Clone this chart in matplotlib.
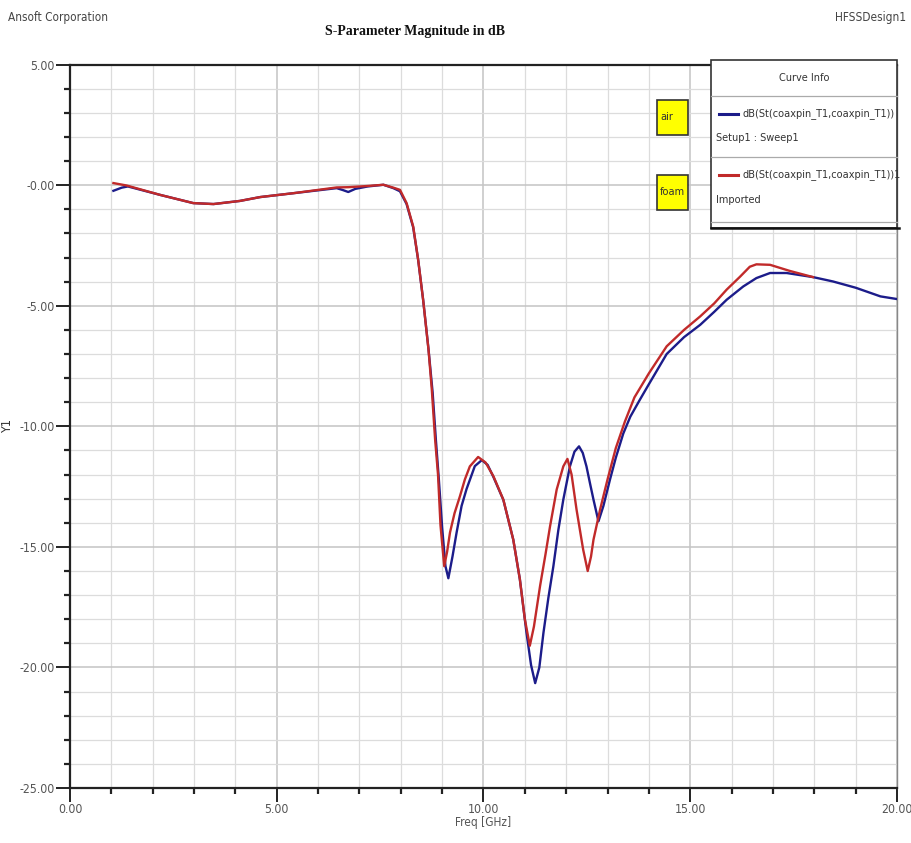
import os
import numpy as np
import matplotlib
matplotlib.use('Agg')
import matplotlib.pyplot as plt
from matplotlib import font_manager
from matplotlib.font_manager import FontProperties
from matplotlib.patches import Rectangle
from matplotlib.lines import Line2D
from matplotlib.ticker import MultipleLocator, FixedLocator

# air (simulated, Setup1 : Sweep1)
freq_air = [1.05, 1.25, 1.4, 2.18, 2.98, 3.47, 4.11, 4.6, 5.4, 6.45, 6.6, 6.73, 6.9, 7.2,
            7.58, 7.82, 7.98, 8.14, 8.3, 8.42, 8.54, 8.67, 8.77, 8.85, 8.92, 9.0, 9.08,
            9.15, 9.25, 9.35, 9.47, 9.59, 9.79, 9.96, 10.1, 10.24, 10.48, 10.72, 10.88,
            11.04, 11.15, 11.25, 11.35, 11.45, 11.57, 11.69, 11.81, 11.93, 12.09, 12.2,
            12.31, 12.4, 12.49, 12.58, 12.66, 12.78, 12.9, 13.06, 13.2, 13.38, 13.55,
            13.78, 14.0, 14.43, 14.85, 15.24, 15.58, 15.88, 16.28, 16.6, 16.93, 17.33,
            17.97, 18.45, 19.0, 19.6, 20.0]
s11_air = [-0.23, -0.10, -0.05, -0.40, -0.74, -0.78, -0.65, -0.49, -0.33, -0.12, -0.20,
           -0.28, -0.15, -0.05, 0.02, -0.12, -0.25, -0.78, -1.75, -3.1, -4.75, -6.8, -8.6,
           -10.6, -12.2, -14.2, -15.8, -16.3, -15.4, -14.4, -13.3, -12.6, -11.65, -11.4,
           -11.6, -12.1, -13.05, -14.7, -16.35, -18.56, -19.9, -20.65, -20.0, -18.56,
           -17.1, -15.8, -14.3, -13.04, -11.66, -11.05, -10.83, -11.1, -11.66, -12.4,
           -13.04, -13.94, -13.3, -12.2, -11.3, -10.3, -9.6, -8.9, -8.25, -7.0, -6.3,
           -5.79, -5.25, -4.75, -4.2, -3.85, -3.64, -3.64, -3.81, -3.99, -4.25, -4.61,
           -4.72]

# foam (imported measurement)
freq_foam = [1.05, 1.37, 2.18, 2.98, 3.47, 4.11, 4.6, 5.4, 6.45, 6.73, 7.2, 7.58, 7.82,
             7.98, 8.14, 8.3, 8.42, 8.54, 8.67, 8.75, 8.83, 8.9, 8.96, 9.05, 9.12, 9.19,
             9.3, 9.43, 9.55, 9.67, 9.87, 10.05, 10.24, 10.48, 10.72, 10.88, 11.0, 11.12,
             11.22, 11.37, 11.5, 11.61, 11.77, 11.93, 12.03, 12.13, 12.25, 12.41, 12.52,
             12.6, 12.66, 12.82, 13.0, 13.2, 13.42, 13.65, 14.0, 14.43, 14.85, 15.24,
             15.58, 15.88, 16.2, 16.44, 16.6, 16.93, 17.4, 17.97]
s11_foam = [0.09, -0.01, -0.40, -0.74, -0.78, -0.65, -0.49, -0.33, -0.09, -0.08, -0.03,
            0.02, -0.10, -0.19, -0.74, -1.71, -3.09, -4.75, -6.82, -8.48, -10.55, -12.0,
            -14.1, -15.8, -15.2, -14.4, -13.6, -12.9, -12.2, -11.66, -11.27, -11.5,
            -12.07, -13.04, -14.7, -16.35, -18.0, -19.1, -18.3, -16.6, -15.3, -14.14,
            -12.62, -11.66, -11.35, -12.0, -13.45, -15.11, -16.0, -15.4, -14.7, -13.45,
            -12.2, -10.9, -9.8, -8.8, -7.8, -6.68, -6.0, -5.44, -4.9, -4.33, -3.8, -3.38,
            -3.28, -3.30, -3.55, -3.81]

W, H = 912, 843
NAVY = '#1c1c8a'
BRICK = '#c12a2a'
GRAYTXT = '#555555'


def narrow_font():
    # look for a condensed sans face, else plain DejaVu Sans
    for f in font_manager.fontManager.ttflist:
        if f.name == 'Liberation Sans Narrow' and f.weight in (400, 'normal') and f.style == 'normal':
            return f.fname
    for f in font_manager.fontManager.ttflist:
        base = os.path.basename(f.fname)
        if base in ('RobotoCondensed-Regular.ttf', 'DejaVuSansCondensed.ttf',
                    'Roboto_Condensed-Regular.ttf', 'OpenSans_Condensed-Regular.ttf'):
            return f.fname
    return None


NARROW_FILE = narrow_font()


def fp(size):
    if NARROW_FILE:
        return FontProperties(fname=NARROW_FILE, size=size)
    return FontProperties(family='DejaVu Sans', size=size * 0.9)


def fx(x):
    return x / W


def fy(y):
    return 1 - y / H


def main():
    fig = plt.figure(figsize=(W / 100, H / 100), dpi=100)
    ax = fig.add_axes([fx(70), fy(788), fx(897) - fx(70), fy(64.7) - fy(788)])

    ax.plot(freq_air, s11_air, color=NAVY, lw=1.7, zorder=3)
    ax.plot(freq_foam, s11_foam, color=BRICK, lw=1.7, zorder=4)

    ax.set_xlim(0, 20)
    ax.set_ylim(-25, 5)
    ax.xaxis.set_major_locator(FixedLocator([0, 5, 10, 15, 20]))
    ax.yaxis.set_major_locator(FixedLocator([-25, -20, -15, -10, -5, 0, 5]))
    ax.xaxis.set_minor_locator(MultipleLocator(1))
    ax.yaxis.set_minor_locator(MultipleLocator(1))
    ax.set_xticklabels(['0.00', '5.00', '10.00', '15.00', '20.00'])
    ax.set_yticklabels(['-25.00', '-20.00', '-15.00', '-10.00', '-5.00', '-0.00', '5.00'])
    ax.grid(which='minor', color='#dcdcdc', lw=0.9)
    ax.grid(which='major', color='#c4c4c4', lw=1.1)
    ax.set_axisbelow(True)
    ax.tick_params(which='major', direction='out', length=10, width=1.4, color='#222222',
                   labelcolor=GRAYTXT, pad=1)
    ax.tick_params(which='minor', direction='out', length=4, width=1.6, color='#222222')
    for lab in ax.get_xticklabels() + ax.get_yticklabels():
        lab.set_fontproperties(fp(8.8))

    for side in ['left', 'bottom', 'top']:
        ax.spines[side].set_linewidth(1.6)
        ax.spines[side].set_color('#222222')
    ax.spines['right'].set_color('#888888')
    ax.spines['right'].set_linewidth(1.0)

    ax.set_xlabel('Freq [GHz]', fontproperties=fp(8.5), color=GRAYTXT, labelpad=0)
    ax.set_ylabel('Y1', fontproperties=fp(9), color='#333333')
    ax.yaxis.set_label_coords((14 - 70) / 827, 0.5)

    # header texts
    fig.text(fx(8), fy(18), 'Ansoft Corporation', fontproperties=fp(8.5),
             color='#444444', va='center', ha='left')
    fig.text(fx(906), fy(18), 'HFSSDesign1', fontproperties=fp(8.5),
             color='#444444', va='center', ha='right')
    fig.text(fx(415), fy(32), 'S-Parameter Magnitude in dB', family='Liberation Serif',
             fontweight='bold', fontsize=10, color='#111111', va='center', ha='center')

    # curve info box
    fig.add_artist(Rectangle((fx(711), fy(228)), fx(897) - fx(711), fy(60) - fy(228),
                             transform=fig.transFigure, facecolor='white',
                             edgecolor='#333333', lw=1.2, zorder=5))
    for ysep in [96, 157, 222]:
        fig.add_artist(Line2D([fx(711), fx(897)], [fy(ysep), fy(ysep)],
                              transform=fig.transFigure, color='#aaaaaa', lw=0.9, zorder=6))
    fig.add_artist(Line2D([fx(711), fx(899)], [fy(228), fy(228)],
                          transform=fig.transFigure, color='#111111', lw=1.8, zorder=6))
    fig.text(fx(804), fy(78), 'Curve Info', fontproperties=fp(7.8), color='#333333',
             ha='center', va='center', zorder=7)
    entries = [(114, 138, NAVY, 'dB(St(coaxpin_T1,coaxpin_T1))', 'Setup1 : Sweep1'),
               (175, 200, BRICK, 'dB(St(coaxpin_T1,coaxpin_T1))1', 'Imported')]
    for y1, y2, col, name, sub in entries:
        fig.add_artist(Line2D([fx(719), fx(738)], [fy(y1), fy(y1)],
                              transform=fig.transFigure, color=col, lw=2.2, zorder=7))
        fig.text(fx(743), fy(y1), name, fontproperties=fp(7.8), color='#333333',
                 ha='left', va='center', zorder=7)
        fig.text(fx(716), fy(y2), sub, fontproperties=fp(7.8), color='#333333',
                 ha='left', va='center', zorder=7)

    # yellow curve tags
    for ytop, tag in [(100, 'air'), (175, 'foam')]:
        fig.add_artist(Rectangle((fx(657), fy(ytop + 35)), fx(688) - fx(657),
                                 fy(ytop) - fy(ytop + 35), transform=fig.transFigure,
                                 facecolor='#ffff00', edgecolor='#333333', lw=1.2, zorder=5))
        fig.text(fx(660), fy(ytop + 17), tag, fontproperties=fp(7.8), color='#333333',
                 ha='left', va='center', zorder=7)

    fig.savefig('out.png', dpi=100)


if __name__ == "__main__":
    main()
